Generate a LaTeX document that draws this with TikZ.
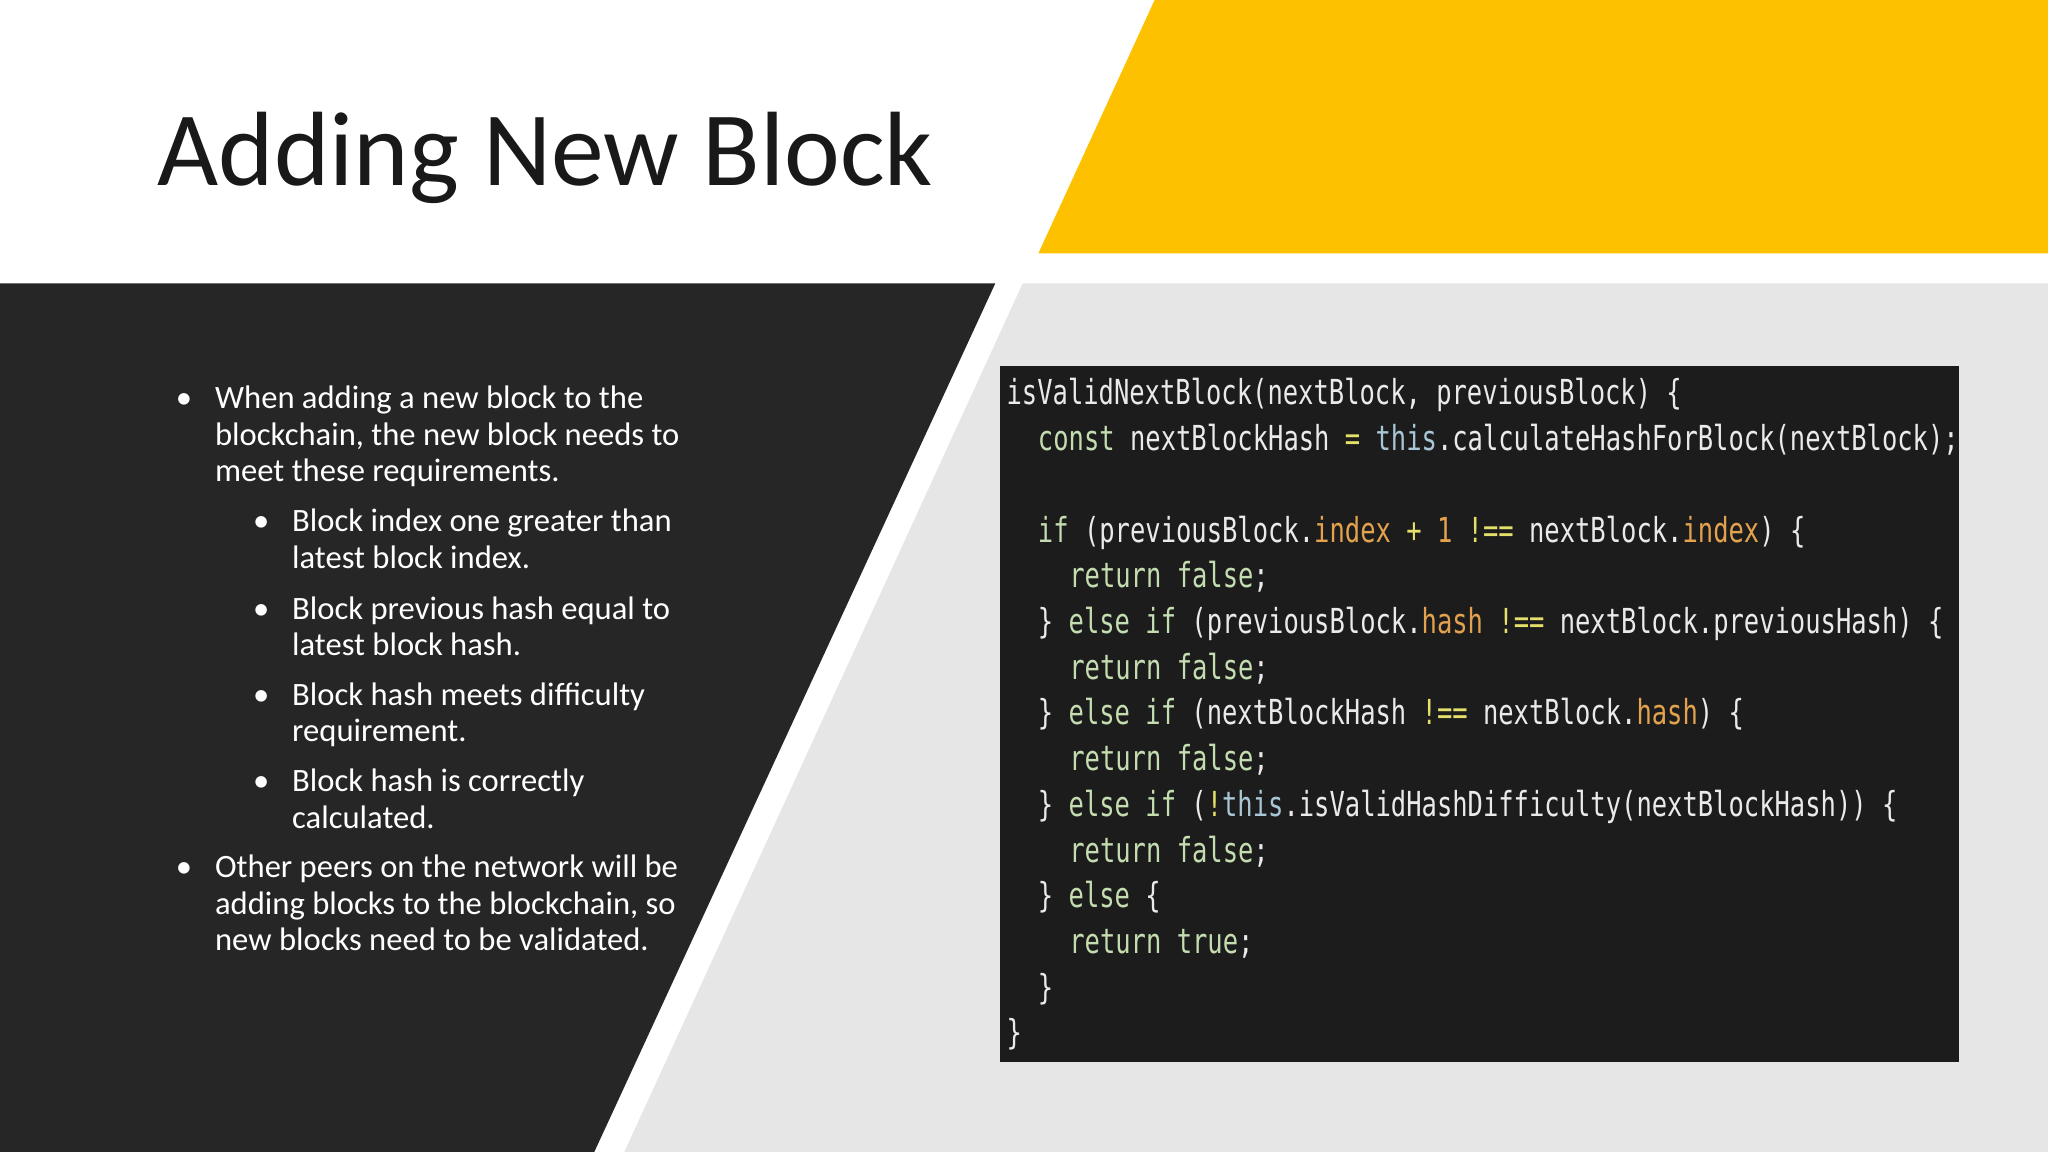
\documentclass[tikz,border=0pt]{standalone}
\usepackage{fontspec}
\setmainfont{Carlito}
\newfontfamily\codefont[FakeStretch=0.74]{DejaVu Sans Mono}
\definecolor{yel}{HTML}{FDC100}
\definecolor{dark}{HTML}{262626}
\definecolor{lgray}{HTML}{E7E6E6}
\definecolor{codebg}{HTML}{1C1C1C}
\definecolor{ctxt}{HTML}{EAEAEA}
\definecolor{kw}{HTML}{C4DDB0}
\definecolor{th}{HTML}{A9C6D6}
\definecolor{org}{HTML}{E3A24E}
\definecolor{op}{HTML}{E4E06A}
\newcommand{\K}[1]{\textcolor{kw}{#1}}
\newcommand{\T}[1]{\textcolor{th}{#1}}
\newcommand{\Or}[1]{\textcolor{org}{#1}}
\newcommand{\Op}[1]{\textcolor{op}{#1}}
\tikzset{
  bul/.style={anchor=base west, inner sep=0, text=white, font=\fontsize{7.1}{8}\selectfont},
  code/.style={anchor=base west, inner sep=0, text=ctxt, font=\codefont\fontsize{7.5}{8}\selectfont},
}
\begin{document}
\begin{tikzpicture}[x=0.01cm,y=-0.01cm]
\useasboundingbox (0,0) rectangle (1568,882);
\fill[white] (0,0) rectangle (1568,882);
\fill[yel] (884,0) -- (1568,0) -- (1568,194) -- (795,194) -- cycle;
\fill[lgray] (783,217) -- (1568,217) -- (1568,882) -- (478,882) -- cycle;
\fill[dark] (0,217) -- (762,217) -- (455,882) -- (0,882) -- cycle;
\node[anchor=base west, inner sep=0, font=\fontsize{23}{26}\selectfont, text=black!90] (title) at (120,142) {Adding New Block};
% bullets
\node[bul] (b1) at (134,313) {•};
\node[bul] (t1a) at (164,313) {When adding a new block to the};
\node[bul] (t1b) at (164,341) {blockchain, the new block needs to};
\node[bul] (t1c) at (164,369) {meet these requirements.};
\node[bul] (b2) at (193,407) {•};
\node[bul] (t2a) at (223,407) {Block index one greater than};
\node[bul] (t2b) at (223,435) {latest block index.};
\node[bul] (b3) at (193,474) {•};
\node[bul] (t3a) at (223,474) {Block previous hash equal to};
\node[bul] (t3b) at (223,502) {latest block hash.};
\node[bul] (b4) at (193,540) {•};
\node[bul] (t4a) at (223,540) {Block hash meets difficulty};
\node[bul] (t4b) at (223,568) {requirement.};
\node[bul] (b5) at (193,606) {•};
\node[bul] (t5a) at (223,606) {Block hash is correctly};
\node[bul] (t5b) at (223,634) {calculated.};
\node[bul] (b6) at (134,672) {•};
\node[bul] (t6a) at (164,672) {Other peers on the network will be};
\node[bul] (t6b) at (164,700) {adding blocks to the blockchain, so};
\node[bul] (t6c) at (164,728) {new blocks need to be validated.};
% code
\fill[codebg] (766,280) rectangle (1500,813);
\node[code] (c1) at (770,310) {isValidNextBlock(nextBlock, previousBlock) \{};
\node[code] (c2) at (794,345) {\K{const} nextBlockHash \Op{=} \T{this}.calculateHashForBlock(nextBlock);};
\node[code] (c4) at (794,415) {\K{if} (previousBlock.\Or{index} \Op{+} \Or{1} \Op{!==} nextBlock.\Or{index}) \{};
\node[code] (c5) at (818,450) {\K{return} \K{false};};
\node[code] (c6) at (794,485) {\} \K{else} \K{if} (previousBlock.\Or{hash} \Op{!==} nextBlock.previousHash) \{};
\node[code] (c7) at (818,520) {\K{return} \K{false};};
\node[code] (c8) at (794,555) {\} \K{else} \K{if} (nextBlockHash \Op{!==} nextBlock.\Or{hash}) \{};
\node[code] (c9) at (818,590) {\K{return} \K{false};};
\node[code] (c10) at (794,625) {\} \K{else} \K{if} (\Op{!}\T{this}.isValidHashDifficulty(nextBlockHash)) \{};
\node[code] (c11) at (818,660) {\K{return} \K{false};};
\node[code] (c12) at (794,695) {\} \K{else} \{};
\node[code] (c13) at (818,730) {\K{return} \K{true};};
\node[code] (c14) at (794,765) {\}};
\node[code] (c15) at (770,800) {\}};
\end{tikzpicture}
\end{document}
